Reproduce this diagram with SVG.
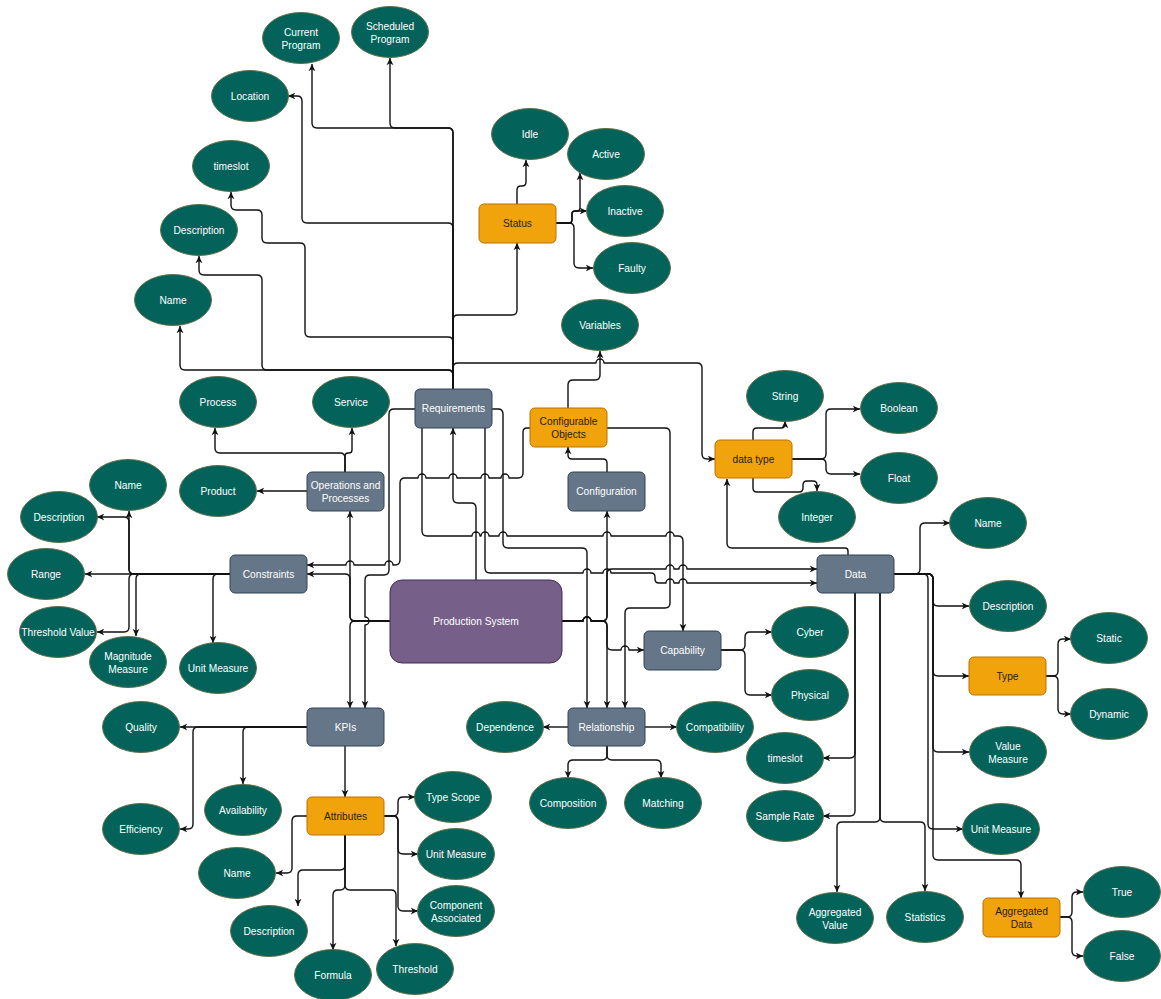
<svg xmlns="http://www.w3.org/2000/svg" width="1161" height="999" viewBox="0 0 1161 999">
  <style>
    .edge { fill: none; stroke: #111; stroke-width: 1.4; stroke-linejoin: round; marker-end: url(#arr); }
    .attr ellipse { fill: #03635b; stroke: #5f6f45; stroke-width: 1; }
    .attr text, .entity text, .core text { fill: #ffffff; }
    .entity rect { fill: #647687; stroke: #314354; stroke-width: 1; }
    .group rect { fill: #f0a30a; stroke: #bd7000; stroke-width: 1; }
    .group text { fill: #2a2000; }
    .core rect { fill: #76608a; stroke: #432d57; stroke-width: 1; }
    text { font-family: "Liberation Sans", Arial, sans-serif; font-size: 10.2px; text-anchor: middle; dominant-baseline: central; }
  </style>
  <defs>
    <marker id="arr" viewBox="0 0 10 10" refX="8" refY="5" markerWidth="9" markerHeight="9" markerUnits="userSpaceOnUse" orient="auto">
      <path d="M0,1.2 L8,5 L0,8.8 L2.2,5 z" fill="#111"/>
    </marker>
  </defs>
  <rect width="1161" height="999" fill="#ffffff"/>

  <g id="connectors">
    <!-- Requirements (upper trunk) -->
    <path class="edge" d="M453,389 V133 Q453,128 448,128 H317 Q312,128 312,123 V64"/>
    <path class="edge" d="M453,389 V133 Q453,128 448,128 H395 Q390,128 390,123 V58"/>
    <path class="edge" d="M453,389 V228 Q453,223 448,223 H307 Q302,223 302,218 V101 Q302,96 297,96 H288"/>
    <path class="edge" d="M453,389 V342 Q453,337 448,337 H310 Q305,337 305,332 V248 Q305,243 300,243 H267 Q262,243 262,238 V215 Q262,210 257,210 H236 Q231,210 231,205 V192"/>
    <path class="edge" d="M453,389 V375 Q453,370 448,370 H267 Q262,370 262,365 V280 Q262,275 257,275 H204 Q199,275 199,270 V256"/>
    <path class="edge" d="M453,389 V375 Q453,370 448,370 H185 Q180,370 180,365 V326"/>
    <path class="edge" d="M453,389 V320 Q453,315 458,315 H512 Q517,315 517,310 V243"/>
    <path class="edge" d="M453,389 V368 Q453,363 458,363 H596 A4,4 0 0 1 604,363 H697 Q702,363 702,368 V454 Q702,459 707,459 H715"/>
    <!-- Status -->
    <path class="edge" d="M517,204 V190 Q517,186 521,186 H522 Q526,186 526,182 V160"/>
    <path class="edge" d="M556,223 H569 Q572,223 572,220 V214 Q572,211 575,211 H577 Q580,211 580,208 V173"/>
    <path class="edge" d="M556,223 H569 Q572,223 572,220 V214 Q572,211 575,211 H587"/>
    <path class="edge" d="M556,223 H569 Q574,223 574,228 V263 Q574,268 579,268 H593"/>
    <!-- Configurable Objects / Configuration -->
    <path class="edge" d="M568,408 V385 Q568,380 573,380 H595 Q600,380 600,375 V351"/>
    <path class="edge" d="M607,472 V463 Q607,459 603,459 H572 Q568,459 568,455 V447"/>
    <path class="edge" d="M530,428 H527 Q523,428 523,432 V473 Q523,478 518,478 H509 A4,4 0 0 0 501,478 H489 A4,4 0 0 0 481,478 H457 A4,4 0 0 0 449,478 H426 A4,4 0 0 0 418,478 H405 Q400,478 400,483 V560 Q400,565 395,565 H393 A4,4 0 0 0 385,565 H354 A4,4 0 0 0 346,565 H307"/>
    <path class="edge" d="M607,428 H665 Q670,428 670,433 V603 Q670,608 665,608 H630 Q625,608 625,613 V708"/>
    <!-- Operations and Processes -->
    <path class="edge" d="M345,472 V458 Q345,453 340,453 H220 Q215,453 215,448 V428"/>
    <path class="edge" d="M345,472 V456 Q345,453 348,453 H349 Q352,453 352,450 V428"/>
    <path class="edge" d="M307,491 H257"/>
    <!-- Production System -->
    <path class="edge" d="M476,580 V508 Q476,503 471,503 H458 Q453,503 453,498 V428"/>
    <path class="edge" d="M390,621 H355 Q350,621 350,616 V511"/>
    <path class="edge" d="M390,621 H355 Q350,621 350,616 V579 Q350,574 345,574 H307"/>
    <path class="edge" d="M390,621 H355 Q350,621 350,626 V708"/>
    <path class="edge" d="M562,621 H583 A4,4 0 0 1 591,621 H602 Q607,621 607,616 V511"/>
    <path class="edge" d="M562,621 H583 A4,4 0 0 1 591,621 H602 Q607,621 607,626 V708"/>
    <path class="edge" d="M562,621 H583 A4,4 0 0 1 591,621 H602 Q607,621 607,626 V645 Q607,650 612,650 H621 A4,4 0 0 1 629,650 H644"/>
    <path class="edge" d="M562,621 H583 A4,4 0 0 1 591,621 H602 Q607,621 607,616 V574 Q607,569 612,569 H666 A4,4 0 0 1 674,569 H679 A4,4 0 0 1 687,569 H817"/>
    <!-- Requirements (lower links) -->
    <path class="edge" d="M415,409 H394 Q389,409 389,414 V570 Q389,575 384,575 H370 Q365,575 365,580 V617 A4,4 0 0 1 365,625 V708"/>
    <path class="edge" d="M422,428 V531 Q422,536 427,536 H472 A4,4 0 0 1 480,536 H481 A4,4 0 0 1 489,536 H499 A4,4 0 0 1 507,536 H603 A4,4 0 0 1 611,536 H666 A4,4 0 0 1 674,536 H678 Q683,536 683,541 V631"/>
    <path class="edge" d="M492,409 H498 Q503,409 503,414 V543 Q503,548 508,548 H582 Q587,548 587,553 V708"/>
    <path class="edge" d="M485,428 V568 Q485,573 490,573 H583 A4,4 0 0 1 591,573 H603 A4,4 0 0 1 611,573 H651 Q655,573 655,577 V579 Q655,583 659,583 H666 A4,4 0 0 1 674,583 H679 A4,4 0 0 1 687,583 H817"/>
    <!-- Constraints -->
    <path class="edge" d="M230,574 H85"/>
    <path class="edge" d="M230,574 H134 Q129,574 129,569 V511"/>
    <path class="edge" d="M230,574 H134 Q129,574 129,569 V522 Q129,517 124,517 H97"/>
    <path class="edge" d="M230,574 H134 Q129,574 129,579 V627 Q129,632 124,632 H97"/>
    <path class="edge" d="M230,574 H141 Q136,574 136,579 V636"/>
    <path class="edge" d="M230,574 H218 Q213,574 213,579 V643"/>
    <!-- KPIs -->
    <path class="edge" d="M307,727 H180"/>
    <path class="edge" d="M307,727 H198 Q193,727 193,732 V824 Q193,829 188,829 H180"/>
    <path class="edge" d="M307,727 H248 Q243,727 243,732 V784"/>
    <path class="edge" d="M345,746 V797"/>
    <!-- Attributes -->
    <path class="edge" d="M384,816 H393 Q398,816 398,811 V802 Q398,797 403,797 H415"/>
    <path class="edge" d="M384,816 H393 Q398,816 398,821 V849 Q398,854 403,854 H418"/>
    <path class="edge" d="M384,816 H393 Q398,816 398,821 V906 Q398,911 403,911 H418"/>
    <path class="edge" d="M307,816 H297 Q292,816 292,821 V868 Q292,873 287,873 H276"/>
    <path class="edge" d="M345,835 V865 Q345,870 340,870 H303 Q298,870 298,875 V906"/>
    <path class="edge" d="M345,835 V885 Q345,890 340,890 H338 Q333,890 333,895 V950"/>
    <path class="edge" d="M345,835 V885 Q345,890 350,890 H391 Q396,890 396,895 V946"/>
    <!-- Relationship -->
    <path class="edge" d="M645,727 H677"/>
    <path class="edge" d="M568,727 H543"/>
    <path class="edge" d="M607,746 V755 Q607,760 602,760 H573 Q568,760 568,765 V778"/>
    <path class="edge" d="M607,746 V755 Q607,760 612,760 H656 Q661,760 661,765 V778"/>
    <!-- Capability -->
    <path class="edge" d="M721,650 H740 Q745,650 745,645 V637 Q745,632 750,632 H772"/>
    <path class="edge" d="M721,650 H740 Q745,650 745,655 V690 Q745,695 750,695 H772"/>
    <!-- data type -->
    <path class="edge" d="M848,555 V551 Q848,548 845,548 H732 Q727,548 727,543 V479"/>
    <path class="edge" d="M753,440 V432 Q753,428 757,428 H781 Q785,428 785,424 V421"/>
    <path class="edge" d="M792,459 H821 Q826,459 826,454 V414 Q826,409 831,409 H860"/>
    <path class="edge" d="M792,459 H821 Q826,459 826,464 V469 Q826,474 831,474 H860"/>
    <path class="edge" d="M753,478 V488 Q753,492 757,492 H799 Q803,492 803,488 V485 Q803,481 807,481 H813 Q817,481 817,485 V491"/>
    <!-- Data -->
    <path class="edge" d="M894,574 H915 Q920,574 920,569 V528 Q920,523 925,523 H950"/>
    <path class="edge" d="M894,574 H928 Q933,574 933,579 V601 Q933,606 938,606 H969"/>
    <path class="edge" d="M894,574 H928 Q933,574 933,579 V671 Q933,676 938,676 H969"/>
    <path class="edge" d="M894,574 H928 Q933,574 933,579 V747 Q933,752 938,752 H969"/>
    <path class="edge" d="M894,574 H923 Q928,574 928,579 V824 Q928,829 933,829 H963"/>
    <path class="edge" d="M894,574 H928 Q933,574 933,579 V855 Q933,860 938,860 H1016 Q1021,860 1021,865 V898"/>
    <path class="edge" d="M855,593 V753 Q855,758 850,758 H823"/>
    <path class="edge" d="M855,593 V811 Q855,816 850,816 H823"/>
    <path class="edge" d="M880,593 V817 Q880,822 875,822 H842 Q837,822 837,827 V892"/>
    <path class="edge" d="M880,593 V817 Q880,822 885,822 H920 Q925,822 925,827 V891"/>
    <!-- Type / Aggregated Data -->
    <path class="edge" d="M1046,676 H1053 Q1058,676 1058,671 V644 Q1058,639 1063,639 H1071"/>
    <path class="edge" d="M1046,676 H1053 Q1058,676 1058,681 V709 Q1058,714 1063,714 H1071"/>
    <path class="edge" d="M1060,917 H1067 Q1072,917 1072,912 V897 Q1072,892 1077,892 H1083"/>
    <path class="edge" d="M1060,917 H1067 Q1072,917 1072,922 V951 Q1072,956 1077,956 H1083"/>
  </g>

  <!-- central system -->
  <g id="production-system" class="core"><rect x="390" y="580" width="172" height="83" rx="12"/><text x="476" y="621">Production System</text></g>

  <!-- entity boxes -->
  <g id="requirements" class="entity"><rect x="415" y="389" width="77" height="39" rx="5"/><text x="453.5" y="408.5">Requirements</text></g>
  <g id="configuration" class="entity"><rect x="568" y="472" width="77" height="39" rx="5"/><text x="606.5" y="491.5">Configuration</text></g>
  <g id="operations" class="entity"><rect x="307" y="472" width="77" height="39" rx="5"/><text x="345.5" y="491.5"><tspan x="345.5" dy="-6.5">Operations and</tspan><tspan x="345.5" dy="13">Processes</tspan></text></g>
  <g id="constraints" class="entity"><rect x="230" y="555" width="77" height="38" rx="5"/><text x="268.5" y="574">Constraints</text></g>
  <g id="kpis" class="entity"><rect x="307" y="708" width="77" height="38" rx="5"/><text x="345.5" y="727">KPIs</text></g>
  <g id="relationship" class="entity"><rect x="568" y="708" width="77" height="38" rx="5"/><text x="606.5" y="727">Relationship</text></g>
  <g id="capability" class="entity"><rect x="644" y="631" width="77" height="39" rx="5"/><text x="682.5" y="650.5">Capability</text></g>
  <g id="data" class="entity"><rect x="817" y="555" width="77" height="38" rx="5"/><text x="855.5" y="574">Data</text></g>

  <!-- grouping boxes -->
  <g id="status" class="group"><rect x="479" y="204" width="77" height="39" rx="5"/><text x="517.5" y="223.5">Status</text></g>
  <g id="configurable-objects" class="group"><rect x="530" y="408" width="77" height="39" rx="5"/><text x="568.5" y="427.5"><tspan x="568.5" dy="-6.5">Configurable</tspan><tspan x="568.5" dy="13">Objects</tspan></text></g>
  <g id="data-type" class="group"><rect x="715" y="440" width="77" height="38" rx="5"/><text x="753.5" y="459">data type</text></g>
  <g id="type" class="group"><rect x="969" y="657" width="77" height="38" rx="5"/><text x="1007.5" y="676">Type</text></g>
  <g id="aggregated-data" class="group"><rect x="983" y="898" width="77" height="39" rx="5"/><text x="1021.5" y="917.5"><tspan x="1021.5" dy="-6.5">Aggregated</tspan><tspan x="1021.5" dy="13">Data</tspan></text></g>
  <g id="attributes" class="group"><rect x="307" y="797" width="77" height="38" rx="5"/><text x="345.5" y="816">Attributes</text></g>

  <!-- requirement attributes -->
  <g id="req-current-program" class="attr"><ellipse cx="301" cy="38" rx="38.5" ry="25.5"/><text x="301" y="38"><tspan x="301" dy="-6.5">Current</tspan><tspan x="301" dy="13">Program</tspan></text></g>
  <g id="req-scheduled-program" class="attr"><ellipse cx="390" cy="32" rx="38.5" ry="25.5"/><text x="390" y="32"><tspan x="390" dy="-6.5">Scheduled</tspan><tspan x="390" dy="13">Program</tspan></text></g>
  <g id="req-location" class="attr"><ellipse cx="250" cy="96" rx="38.5" ry="25.5"/><text x="250" y="96">Location</text></g>
  <g id="req-timeslot" class="attr"><ellipse cx="231" cy="166" rx="38.5" ry="25.5"/><text x="231" y="166">timeslot</text></g>
  <g id="req-description" class="attr"><ellipse cx="199" cy="230" rx="38.5" ry="25.5"/><text x="199" y="230">Description</text></g>
  <g id="req-name" class="attr"><ellipse cx="173" cy="300" rx="38.5" ry="25.5"/><text x="173" y="300">Name</text></g>

  <!-- status values -->
  <g id="st-idle" class="attr"><ellipse cx="530" cy="134" rx="38.5" ry="25.5"/><text x="530" y="134">Idle</text></g>
  <g id="st-active" class="attr"><ellipse cx="606" cy="154" rx="38.5" ry="25.5"/><text x="606" y="154">Active</text></g>
  <g id="st-inactive" class="attr"><ellipse cx="625" cy="211" rx="38.5" ry="25.5"/><text x="625" y="211">Inactive</text></g>
  <g id="st-faulty" class="attr"><ellipse cx="632" cy="268" rx="38.5" ry="25.5"/><text x="632" y="268">Faulty</text></g>
  <g id="co-variables" class="attr"><ellipse cx="600" cy="325" rx="38.5" ry="25.5"/><text x="600" y="325">Variables</text></g>

  <!-- operations -->
  <g id="op-process" class="attr"><ellipse cx="218" cy="402" rx="38.5" ry="25.5"/><text x="218" y="402">Process</text></g>
  <g id="op-service" class="attr"><ellipse cx="351" cy="402" rx="38.5" ry="25.5"/><text x="351" y="402">Service</text></g>
  <g id="op-product" class="attr"><ellipse cx="218" cy="491" rx="38.5" ry="25.5"/><text x="218" y="491">Product</text></g>

  <!-- data types -->
  <g id="dt-string" class="attr"><ellipse cx="785" cy="396" rx="38.5" ry="25.5"/><text x="785" y="396">String</text></g>
  <g id="dt-boolean" class="attr"><ellipse cx="899" cy="408" rx="38.5" ry="25.5"/><text x="899" y="408">Boolean</text></g>
  <g id="dt-float" class="attr"><ellipse cx="899" cy="478" rx="38.5" ry="25.5"/><text x="899" y="478">Float</text></g>
  <g id="dt-integer" class="attr"><ellipse cx="817" cy="517" rx="38.5" ry="25.5"/><text x="817" y="517">Integer</text></g>

  <!-- data attributes -->
  <g id="data-name" class="attr"><ellipse cx="988" cy="523" rx="38.5" ry="25.5"/><text x="988" y="523">Name</text></g>
  <g id="data-description" class="attr"><ellipse cx="1008" cy="606" rx="38.5" ry="25.5"/><text x="1008" y="606">Description</text></g>
  <g id="type-static" class="attr"><ellipse cx="1109" cy="638" rx="38.5" ry="25.5"/><text x="1109" y="638">Static</text></g>
  <g id="type-dynamic" class="attr"><ellipse cx="1109" cy="714" rx="38.5" ry="25.5"/><text x="1109" y="714">Dynamic</text></g>
  <g id="data-value-measure" class="attr"><ellipse cx="1008" cy="752" rx="38.5" ry="25.5"/><text x="1008" y="752"><tspan x="1008" dy="-6.5">Value</tspan><tspan x="1008" dy="13">Measure</tspan></text></g>
  <g id="data-unit-measure" class="attr"><ellipse cx="1001" cy="829" rx="38.5" ry="25.5"/><text x="1001" y="829">Unit Measure</text></g>
  <g id="agg-true" class="attr"><ellipse cx="1122" cy="892" rx="38.5" ry="25.5"/><text x="1122" y="892">True</text></g>
  <g id="agg-false" class="attr"><ellipse cx="1122" cy="956" rx="38.5" ry="25.5"/><text x="1122" y="956">False</text></g>
  <g id="data-statistics" class="attr"><ellipse cx="925" cy="917" rx="38.5" ry="25.5"/><text x="925" y="917">Statistics</text></g>
  <g id="data-aggregated-value" class="attr"><ellipse cx="835" cy="918" rx="38.5" ry="25.5"/><text x="835" y="918"><tspan x="835" dy="-6.5">Aggregated</tspan><tspan x="835" dy="13">Value</tspan></text></g>
  <g id="data-sample-rate" class="attr"><ellipse cx="785" cy="816" rx="38.5" ry="25.5"/><text x="785" y="816">Sample Rate</text></g>
  <g id="data-timeslot" class="attr"><ellipse cx="785" cy="758" rx="38.5" ry="25.5"/><text x="785" y="758">timeslot</text></g>

  <!-- capability / relationship -->
  <g id="cap-cyber" class="attr"><ellipse cx="810" cy="632" rx="38.5" ry="25.5"/><text x="810" y="632">Cyber</text></g>
  <g id="cap-physical" class="attr"><ellipse cx="810" cy="695" rx="38.5" ry="25.5"/><text x="810" y="695">Physical</text></g>
  <g id="rel-compatibility" class="attr"><ellipse cx="715" cy="727" rx="38.5" ry="25.5"/><text x="715" y="727">Compatibility</text></g>
  <g id="rel-dependence" class="attr"><ellipse cx="505" cy="727" rx="38.5" ry="25.5"/><text x="505" y="727">Dependence</text></g>
  <g id="rel-composition" class="attr"><ellipse cx="568" cy="803" rx="38.5" ry="25.5"/><text x="568" y="803">Composition</text></g>
  <g id="rel-matching" class="attr"><ellipse cx="663" cy="803" rx="38.5" ry="25.5"/><text x="663" y="803">Matching</text></g>

  <!-- constraint attributes -->
  <g id="con-name" class="attr"><ellipse cx="128" cy="485" rx="38.5" ry="25.5"/><text x="128" y="485">Name</text></g>
  <g id="con-description" class="attr"><ellipse cx="59" cy="517" rx="38.5" ry="25.5"/><text x="59" y="517">Description</text></g>
  <g id="con-range" class="attr"><ellipse cx="46" cy="574" rx="38.5" ry="25.5"/><text x="46" y="574">Range</text></g>
  <g id="con-threshold-value" class="attr"><ellipse cx="58" cy="632" rx="38.5" ry="25.5"/><text x="58" y="632">Threshold Value</text></g>
  <g id="con-magnitude" class="attr"><ellipse cx="128" cy="662" rx="38.5" ry="25.5"/><text x="128" y="662"><tspan x="128" dy="-6.5">Magnitude</tspan><tspan x="128" dy="13">Measure</tspan></text></g>
  <g id="con-unit-measure" class="attr"><ellipse cx="218" cy="668" rx="38.5" ry="25.5"/><text x="218" y="668">Unit Measure</text></g>

  <!-- KPI attributes -->
  <g id="kpi-quality" class="attr"><ellipse cx="141" cy="727" rx="38.5" ry="25.5"/><text x="141" y="727">Quality</text></g>
  <g id="kpi-efficiency" class="attr"><ellipse cx="141" cy="829" rx="38.5" ry="25.5"/><text x="141" y="829">Efficiency</text></g>
  <g id="kpi-availability" class="attr"><ellipse cx="243" cy="810" rx="38.5" ry="25.5"/><text x="243" y="810">Availability</text></g>
  <g id="att-name" class="attr"><ellipse cx="237" cy="873" rx="38.5" ry="25.5"/><text x="237" y="873">Name</text></g>
  <g id="att-description" class="attr"><ellipse cx="269" cy="931" rx="38.5" ry="25.5"/><text x="269" y="931">Description</text></g>
  <g id="att-formula" class="attr"><ellipse cx="333" cy="975" rx="38.5" ry="25.5"/><text x="333" y="975">Formula</text></g>
  <g id="att-threshold" class="attr"><ellipse cx="415" cy="969" rx="38.5" ry="25.5"/><text x="415" y="969">Threshold</text></g>
  <g id="att-type-scope" class="attr"><ellipse cx="453" cy="797" rx="38.5" ry="25.5"/><text x="453" y="797">Type Scope</text></g>
  <g id="att-unit-measure" class="attr"><ellipse cx="456" cy="854" rx="38.5" ry="25.5"/><text x="456" y="854">Unit Measure</text></g>
  <g id="att-component" class="attr"><ellipse cx="456" cy="911" rx="38.5" ry="25.5"/><text x="456" y="911"><tspan x="456" dy="-6.5">Component</tspan><tspan x="456" dy="13">Associated</tspan></text></g>
</svg>
